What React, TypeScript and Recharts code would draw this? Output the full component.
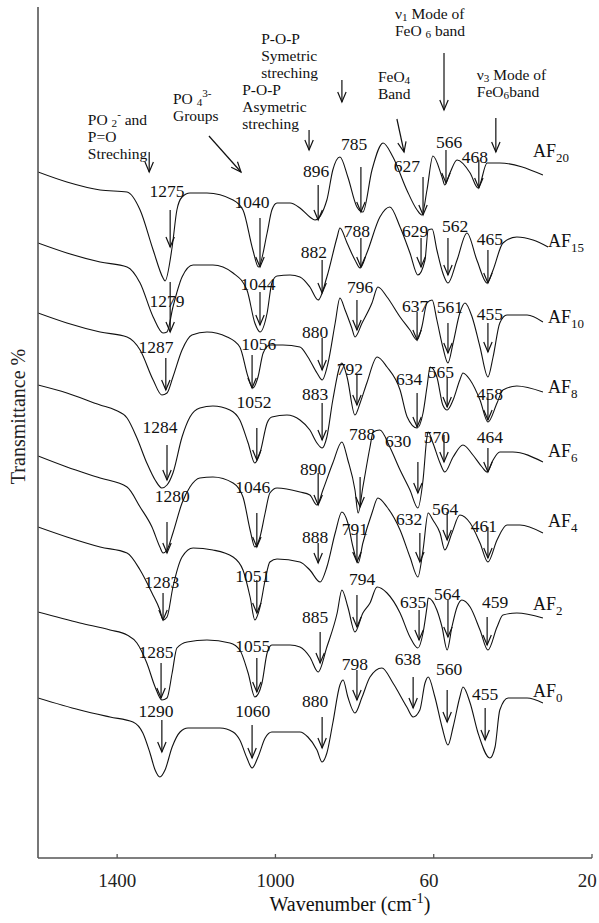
import React from 'react';
import { LineChart, Line, XAxis, YAxis, ReferenceLine, ReferenceDot } from 'recharts';

const FONT = '"Liberation Serif", "Times New Roman", Times, serif';

// x ticks (wavenumber) and the labels printed under them (truncated in the original figure)
const X_TICKS = [1400, 1000, 600, 200];
const X_TICK_LABELS = ['1400', '1000', '60', '20'];

// spectra: [wavenumber cm-1, transmittance (stacked, arbitrary %)]
const AF20: [number, number][] = [
  [1600, 68.6], [1527, 67.6], [1443, 66.8], [1375, 66.6], [1342, 64.8], [1309, 60.8], [1284, 58.0], [1279, 57.7],
  [1261, 61.1], [1249, 64.8], [1236, 66.1], [1216, 66.5], [1173, 66.5], [1107, 65.8], [1082, 64.8], [1057, 60.8],
  [1043, 59.1], [1021, 62.5], [1009, 64.8], [996, 65.5], [963, 65.5], [938, 65.0], [913, 64.1], [900, 63.8],
  [870, 65.8], [855, 68.8], [837, 70.1], [817, 68.1], [794, 65.1], [779, 64.6], [756, 68.8], [728, 71.5],
  [703, 70.1], [668, 66.8], [642, 64.8], [630, 64.3], [617, 66.8], [602, 70.2], [579, 68.1], [572, 67.3],
  [559, 68.5], [541, 69.8], [508, 68.5], [488, 67.0], [465, 69.5], [433, 69.5], [324, 68.3],
];
const AF15: [number, number][] = [
  [1600, 61.5], [1527, 60.5], [1443, 59.6], [1375, 59.1], [1342, 57.5], [1309, 54.1], [1284, 52.5], [1274, 52.6],
  [1259, 55.1], [1236, 58.1], [1208, 59.3], [1158, 59.3], [1107, 58.5], [1072, 56.8], [1052, 53.5], [1039, 52.6],
  [1021, 54.5], [1009, 57.5], [996, 58.2], [963, 58.3], [938, 58.1], [913, 57.1], [892, 55.8], [870, 58.1],
  [844, 62.1], [837, 63.0], [819, 61.5], [799, 59.8], [786, 59.0], [769, 60.5], [736, 64.1], [711, 65.1],
  [685, 63.1], [660, 60.5], [640, 58.3], [622, 59.8], [614, 62.8], [604, 62.9], [592, 60.8], [577, 58.5],
  [564, 57.5], [541, 59.8], [516, 62.5], [491, 59.8], [465, 57.5], [450, 58.8], [425, 61.5], [390, 62.1],
  [349, 61.8], [311, 61.1],
];
const AF10: [number, number][] = [
  [1600, 54.5], [1527, 53.5], [1443, 52.6], [1375, 52.1], [1342, 50.8], [1309, 47.8], [1287, 46.3], [1274, 46.5],
  [1259, 48.1], [1236, 50.8], [1211, 52.3], [1173, 52.6], [1122, 52.1], [1090, 51.1], [1069, 48.1], [1057, 47.0],
  [1044, 48.1], [1031, 50.5], [1014, 51.3], [981, 51.3], [938, 51.1], [918, 50.1], [895, 48.5], [882, 47.8],
  [867, 49.5], [849, 53.5], [837, 56.0], [824, 54.8], [807, 53.0], [799, 52.1], [781, 53.5], [756, 55.5],
  [741, 57.1], [718, 56.1], [685, 54.1], [660, 52.8], [642, 51.8], [630, 53.1], [617, 55.5], [604, 55.8],
  [592, 53.8], [577, 51.1], [564, 49.5], [551, 51.5], [534, 54.5], [521, 55.5], [503, 54.1], [483, 51.1],
  [463, 48.1], [450, 50.1], [433, 53.5], [415, 54.3], [364, 54.3], [324, 53.6],
];
const AF8: [number, number][] = [
  [1600, 47.3], [1527, 46.5], [1443, 45.3], [1405, 44.8], [1375, 44.0], [1350, 42.0], [1325, 39.5], [1304, 37.8],
  [1287, 37.0], [1274, 37.3], [1259, 38.5], [1236, 42.1], [1216, 44.1], [1191, 45.0], [1158, 45.2], [1115, 44.8],
  [1090, 43.8], [1069, 41.5], [1052, 39.5], [1039, 40.5], [1021, 43.5], [1009, 44.1], [971, 44.3], [938, 43.8],
  [913, 42.8], [895, 41.5], [882, 41.0], [870, 42.1], [855, 45.8], [832, 49.5], [819, 48.1], [799, 44.3],
  [786, 45.5], [769, 47.5], [743, 50.1], [718, 49.1], [685, 46.8], [667, 44.1], [642, 43.0], [627, 44.5],
  [617, 47.1], [609, 49.1], [592, 48.1], [577, 45.3], [566, 44.8], [551, 45.8], [534, 47.8], [526, 48.5],
  [508, 47.8], [483, 45.8], [463, 43.6], [440, 45.5], [425, 46.8], [390, 47.2], [324, 46.6],
];
const AF6: [number, number][] = [
  [1600, 40.2], [1527, 39.1], [1443, 38.0], [1375, 37.1], [1342, 35.1], [1312, 33.1], [1292, 31.1], [1284, 30.5],
  [1274, 30.8], [1259, 32.5], [1236, 35.5], [1216, 37.1], [1191, 38.0], [1158, 38.1], [1107, 37.5], [1082, 36.1],
  [1064, 32.8], [1052, 31.1], [1039, 32.1], [1026, 34.5], [1014, 36.5], [996, 37.0], [938, 36.6], [913, 36.3],
  [895, 35.3], [880, 36.8], [855, 39.5], [832, 41.6], [817, 39.8], [799, 36.8], [791, 34.5], [779, 37.1],
  [761, 41.1], [753, 42.6], [736, 42.8], [711, 41.1], [685, 38.8], [660, 36.8], [640, 35.0], [627, 37.8],
  [617, 42.1], [614, 42.6], [602, 41.5], [584, 39.5], [572, 38.6], [551, 40.1], [526, 41.3], [501, 40.3],
  [478, 39.1], [465, 38.6], [450, 39.8], [433, 40.6], [400, 40.6], [324, 39.6],
];
const AF4: [number, number][] = [
  [1600, 33.1], [1527, 32.1], [1443, 31.1], [1375, 30.5], [1342, 28.8], [1312, 26.5], [1292, 24.8], [1284, 23.8],
  [1274, 24.1], [1259, 27.1], [1236, 30.1], [1208, 31.0], [1158, 30.8], [1107, 30.1], [1082, 28.8], [1064, 26.1],
  [1052, 23.8], [1039, 25.1], [1026, 27.8], [1014, 29.6], [996, 29.9], [938, 29.6], [913, 28.8], [887, 27.6],
  [870, 29.1], [849, 32.5], [832, 34.6], [817, 33.5], [804, 31.1], [791, 29.5], [779, 31.5], [756, 34.5],
  [741, 36.0], [718, 35.1], [685, 32.8], [660, 30.1], [640, 28.1], [627, 30.8], [614, 34.5], [602, 33.8],
  [584, 32.5], [572, 30.8], [554, 32.5], [534, 34.3], [508, 33.5], [483, 31.5], [463, 29.6], [440, 31.8],
  [415, 33.3], [382, 33.3], [324, 32.5],
];
const AF2: [number, number][] = [
  [1600, 24.6], [1494, 23.5], [1418, 22.8], [1375, 22.3], [1350, 21.5], [1325, 19.5], [1304, 17.1], [1287, 15.8],
  [1274, 16.0], [1261, 18.5], [1249, 21.0], [1223, 21.6], [1173, 21.8], [1115, 21.5], [1090, 20.8], [1069, 18.5],
  [1052, 16.1], [1034, 17.5], [1021, 20.5], [1009, 21.3], [963, 21.3], [938, 21.1], [913, 20.1], [892, 18.6],
  [870, 21.1], [844, 24.5], [832, 26.8], [817, 25.1], [799, 22.6], [779, 24.5], [761, 25.5], [743, 27.1],
  [718, 26.5], [685, 24.5], [660, 22.1], [640, 21.0], [627, 22.5], [617, 25.1], [614, 26.0], [592, 24.8],
  [579, 23.1], [566, 20.8], [554, 23.1], [541, 25.1], [529, 25.8], [508, 25.1], [483, 22.8], [463, 20.8],
  [440, 23.1], [425, 24.3], [390, 24.5], [324, 24.0],
];
const AF0: [number, number][] = [
  [1600, 16.0], [1494, 14.8], [1418, 14.1], [1360, 13.6], [1335, 12.5], [1317, 10.5], [1304, 8.8], [1292, 8.1],
  [1279, 8.8], [1261, 11.1], [1241, 12.6], [1221, 13.0], [1140, 13.0], [1107, 12.6], [1090, 11.8], [1072, 10.0],
  [1059, 9.0], [1044, 10.1], [1026, 12.0], [1009, 12.6], [938, 12.6], [918, 12.1], [895, 10.8], [882, 9.6],
  [870, 10.5], [855, 13.5], [837, 17.3], [829, 17.8], [817, 16.1], [799, 14.5], [781, 16.1], [761, 18.1],
  [731, 19.0], [703, 17.5], [668, 15.1], [652, 14.1], [635, 14.8], [622, 17.5], [614, 18.1], [597, 16.1],
  [579, 13.1], [564, 11.3], [551, 13.1], [534, 16.1], [526, 17.1], [508, 15.5], [488, 12.5], [458, 10.0],
  [445, 11.1], [433, 14.8], [412, 16.0], [364, 16.0], [324, 15.5],
];

// peak marks: [label, arrow wavenumber, arrow top, arrow tip, label wavenumber, label baseline]
type Peak = [string, number, number, number, number, number];
const AF20_PEAKS: Peak[] = [
  ['1275', 1266, 64.8, 61.1, 1274, 66.1], ['1040', 1039, 64.0, 59.1, 1059, 65.0], ['896', 892, 67.3, 63.8, 897, 68.1],
  ['785', 784, 69.1, 64.6, 801, 70.8], ['627', 627, 68.1, 64.3, 668, 68.6], ['566', 569, 70.8, 67.5, 561, 71.0],
  ['468', 486, 69.8, 67.0, 496, 69.5],
];
const AF15_PEAKS: Peak[] = [
  ['1279', 1266, 57.6, 52.6, 1274, 55.1], ['1044', 1039, 56.6, 53.3, 1044, 56.8], ['882', 882, 59.8, 56.5, 903, 60.0],
  ['788', 784, 62.0, 59.1, 794, 62.1], ['629', 632, 62.0, 59.1, 647, 62.1], ['562', 564, 62.0, 58.3, 546, 62.6],
  ['465', 463, 60.8, 57.5, 458, 61.3],
];
const AF10_PEAKS: Peak[] = [
  ['1287', 1277, 50.0, 46.8, 1302, 50.5], ['1056', 1059, 50.3, 47.0, 1042, 50.8], ['880', 882, 52.0, 48.8, 900, 52.0],
  ['796', 794, 55.8, 52.8, 786, 56.5], ['637', 642, 54.6, 51.8, 647, 54.6], ['561', 564, 53.5, 50.5, 559, 54.5],
  ['455', 463, 53.5, 50.6, 458, 53.8],
];
const AF8_PEAKS: Peak[] = [
  ['1284', 1274, 41.3, 37.8, 1292, 42.5], ['1052', 1047, 43.0, 39.8, 1054, 45.0], ['883', 882, 45.5, 41.8, 900, 45.8],
  ['792', 794, 48.3, 45.3, 812, 48.3], ['634', 642, 46.5, 43.1, 662, 47.3], ['565', 566, 48.0, 45.1, 582, 48.0],
  ['458', 463, 46.5, 43.8, 458, 45.8],
];
const AF6_PEAKS: Peak[] = [
  ['1280', 1274, 33.6, 30.5, 1261, 35.6], ['1046', 1047, 34.5, 31.1, 1057, 36.5], ['890', 892, 38.5, 35.3, 905, 38.3],
  ['788', 786, 38.1, 35.1, 781, 41.8], ['630', 640, 39.6, 36.5, 690, 41.1], ['570', 574, 42.3, 39.6, 592, 41.5],
  ['464', 463, 41.0, 38.6, 458, 41.5],
];
const AF4_PEAKS: Peak[] = [
  ['1283', 1284, 26.5, 23.8, 1287, 27.0], ['1051', 1047, 27.8, 24.5, 1057, 27.6], ['888', 892, 31.5, 29.5, 900, 31.5],
  ['791', 794, 32.5, 29.6, 799, 32.3], ['632', 635, 32.5, 29.6, 662, 33.3], ['564', 566, 34.6, 31.8, 571, 34.3],
  ['461', 463, 33.1, 30.0, 473, 32.6],
];
const AF2_PEAKS: Peak[] = [
  ['1285', 1289, 19.5, 16.0, 1302, 20.0], ['1055', 1047, 20.0, 16.6, 1057, 20.6], ['885', 887, 22.6, 19.5, 900, 23.5],
  ['794', 794, 26.3, 23.1, 781, 27.3], ['635', 637, 24.8, 21.8, 652, 25.0], ['564', 564, 25.8, 22.1, 566, 25.8],
  ['459', 465, 24.1, 21.3, 445, 25.0],
];
const AF0_PEAKS: Peak[] = [
  ['1290', 1287, 13.8, 10.6, 1302, 14.1], ['1060', 1059, 13.3, 10.0, 1057, 14.1], ['880', 882, 14.1, 11.0, 900, 15.1],
  ['798', 794, 18.8, 15.8, 799, 18.8], ['638', 652, 18.1, 15.0, 665, 19.3], ['560', 566, 16.8, 13.6, 561, 18.3],
  ['455', 470, 15.0, 11.8, 470, 15.8],
];

// sample names: [name, label wavenumber (left edge), label baseline]
const SERIES_NAMES: [string, number, number][] = [
  ['AF_{20}', 349, 70.1], ['AF_{15}', 311, 61.1], ['AF_{10}', 311, 53.5], ['AF_{8}', 311, 46.5],
  ['AF_{6}', 311, 40.1], ['AF_{4}', 311, 33.1], ['AF_{2}', 349, 24.8], ['AF_{0}', 349, 16.1],
];
const SERIES = [AF20, AF15, AF10, AF8, AF6, AF4, AF2, AF0];
const PEAKS = [AF20_PEAKS, AF15_PEAKS, AF10_PEAKS, AF8_PEAKS, AF6_PEAKS, AF4_PEAKS, AF2_PEAKS, AF0_PEAKS];

// band assignments: [lines, left wavenumber, first baseline]
const BAND_NOTES: [string[], number, number][] = [
  [['PO _{2}^{-} and', 'P=O', 'Streching'], 1474, 73.3],
  [['PO _{4}^{3-}', 'Groups'], 1259, 75.4],
  [['P-O-P', 'Symetric', 'streching'], 1036, 81.4],
  [['P-O-P', 'Asymetric', 'streching'], 1084, 76.3],
  [['FeO_{4}', 'Band'], 741, 77.6],
  [['ν_{1} Mode of', 'FeO _{6} band'], 698, 83.9],
  [['ν_{3} Mode of', 'FeO_{6}band'], 491, 77.8],
];
// band arrows: [from wavenumber, from value, to wavenumber, to value]
const BAND_ARROWS: [number, number, number, number][] = [
  [1319, 70.6, 1319, 68.6],
  [1168, 72.2, 1087, 68.6],
  [832, 77.8, 832, 75.6],
  [915, 72.8, 915, 70.8],
  [693, 73.9, 675, 70.6],
  [574, 80.5, 574, 74.8],
  [443, 74.0, 443, 70.6],
];

const INK = '#111';
const AXIS = '#555';

// Renders one or more lines of text (with _{sub} and ^{sup} markup) as a single <text> element.
function RichText({
  x,
  y,
  lines,
  fontSize,
  anchor = 'start',
  subShift = 0.3,
  lineHeight = 0,
}: {
  x: number;
  y: number;
  lines: string[];
  fontSize: number;
  anchor?: string;
  subShift?: number;
  lineHeight?: number;
}) {
  let cur = 0;
  const spans: React.ReactNode[] = [];
  lines.forEach((ln, j) => {
    const parts = ln.split(/(_\{[^}]*\}|\^\{[^}]*\})/).filter((p) => p.length > 0);
    parts.forEach((p, i) => {
      let target = 0;
      let content = p;
      let fs = fontSize;
      if (p.startsWith('_{')) {
        target = fontSize * subShift;
        content = p.slice(2, -1);
        fs = fontSize * 0.72;
      } else if (p.startsWith('^{')) {
        target = -fontSize * 0.42;
        content = p.slice(2, -1);
        fs = fontSize * 0.72;
      }
      let dy = target - cur;
      if (i === 0 && j > 0) dy += lineHeight;
      cur = target;
      spans.push(
        <tspan key={`${j}-${i}`} x={i === 0 ? x : undefined} dy={dy} fontSize={fs}>
          {content}
        </tspan>
      );
    });
  });
  return (
    <text x={x} y={y} fontSize={fontSize} fontFamily={FONT} fill={INK} textAnchor={anchor as any} style={{ whiteSpace: 'pre' }}>
      {spans}
    </text>
  );
}

const ArrowShape = (p: any) => {
  const { x1, y1, x2, y2 } = p;
  const ang = Math.atan2(y2 - y1, x2 - x1);
  const L = 10;
  const W = 4.2;
  const bx = x2 - L * Math.cos(ang);
  const by = y2 - L * Math.sin(ang);
  const nx = -Math.sin(ang) * W;
  const ny = Math.cos(ang) * W;
  return (
    <g>
      <line x1={x1} y1={y1} x2={x2} y2={y2} stroke={INK} strokeWidth={1.2} />
      <polyline points={`${bx + nx},${by + ny} ${x2},${y2} ${bx - nx},${by - ny}`} fill="none" stroke={INK} strokeWidth={1.2} />
    </g>
  );
};

const XTick = (props: any) => {
  const { x, y, payload } = props;
  const v = payload.value;
  const idx = X_TICKS.indexOf(v);
  const label = idx >= 0 ? X_TICK_LABELS[idx] : String(v);
  const fs = 19;
  const startX = x - String(v).length * fs * 0.25;
  return (
    <g>
      <line x1={x} x2={x} y1={y} y2={y - 4} stroke={AXIS} strokeWidth={1.3} />
      <text x={startX} y={y + 29} fontSize={fs} fontFamily={FONT} fill="#222" textAnchor="start">
        {label}
      </text>
    </g>
  );
};

const XTitle = (props: any) => {
  const vb = props.viewBox || { x: 38, y: 858, width: 554, height: 65 };
  const cx = vb.x + vb.width / 2 + 35;
  return <RichText x={cx} y={vb.y + 53} lines={['Wavenumber (cm^{-1})']} fontSize={20} anchor="middle" />;
};

const YTitle = (props: any) => {
  const vb = props.viewBox || { x: 0, y: 7, width: 38, height: 851 };
  const x = vb.x + 25;
  const y = vb.y + vb.height / 2 - 16;
  return (
    <text x={x} y={y} transform={`rotate(-90, ${x}, ${y})`} fontSize={20} fontFamily={FONT} fill="#222" textAnchor="middle">
      Transmittance %
    </text>
  );
};

export default function App() {
  return (
    <div style={{ position: 'absolute', left: 0, top: 0, width: 599, height: 923, background: '#fff' }}>
      <LineChart width={599} height={923} margin={{ top: 7, right: 7, bottom: 0, left: 0 }}>
        <XAxis
          type="number"
          dataKey="w"
          domain={[200, 1600]}
          reversed
          allowDataOverflow
          ticks={X_TICKS}
          interval={0}
          tick={<XTick />}
          tickLine={false}
          tickSize={0}
          tickMargin={0}
          height={65}
          axisLine={{ stroke: AXIS, strokeWidth: 1.6 }}
          label={<XTitle />}
        />
        <YAxis
          type="number"
          domain={[0, 85.1]}
          allowDataOverflow
          width={38}
          tick={false}
          tickLine={false}
          axisLine={{ stroke: AXIS, strokeWidth: 1.6 }}
          label={<YTitle />}
        />
        {SERIES.map((s, i) => (
          <Line
            key={'s' + i}
            data={s.map(([w, t]) => ({ w, t }))}
            dataKey="t"
            type="monotone"
            stroke={INK}
            strokeWidth={1.1}
            dot={false}
            activeDot={false}
            isAnimationActive={false}
          />
        ))}
        {PEAKS.flatMap((list, si) =>
          list.map(([lab, aw, top, tip, lw, lb], pi) => (
            <ReferenceLine
              key={`pa${si}-${pi}`}
              segment={[{ x: aw, y: top }, { x: aw, y: tip }]}
              ifOverflow="visible"
              shape={ArrowShape}
            />
          ))
        )}
        {PEAKS.flatMap((list, si) =>
          list.map(([lab, aw, top, tip, lw, lb], pi) => (
            <ReferenceDot
              key={`pl${si}-${pi}`}
              x={lw}
              y={lb}
              ifOverflow="visible"
              shape={(p: any) => <RichText x={p.cx} y={p.cy} lines={[lab]} fontSize={17.5} anchor="middle" />}
            />
          ))
        )}
        {SERIES_NAMES.map(([name, w, v], i) => (
          <ReferenceDot
            key={'n' + i}
            x={w}
            y={v}
            ifOverflow="visible"
            shape={(p: any) => <RichText x={p.cx} y={p.cy} lines={[name]} fontSize={18} />}
          />
        ))}
        {BAND_NOTES.map(([lines, w, v], i) => (
          <ReferenceDot
            key={'b' + i}
            x={w}
            y={v}
            ifOverflow="visible"
            shape={(p: any) => (
              <RichText x={p.cx} y={p.cy} lines={lines} fontSize={15.5} subShift={0.14} lineHeight={17} />
            )}
          />
        ))}
        {BAND_ARROWS.map(([w1, v1, w2, v2], i) => (
          <ReferenceLine
            key={'ba' + i}
            segment={[{ x: w1, y: v1 }, { x: w2, y: v2 }]}
            ifOverflow="visible"
            shape={ArrowShape}
          />
        ))}
      </LineChart>
    </div>
  );
}
